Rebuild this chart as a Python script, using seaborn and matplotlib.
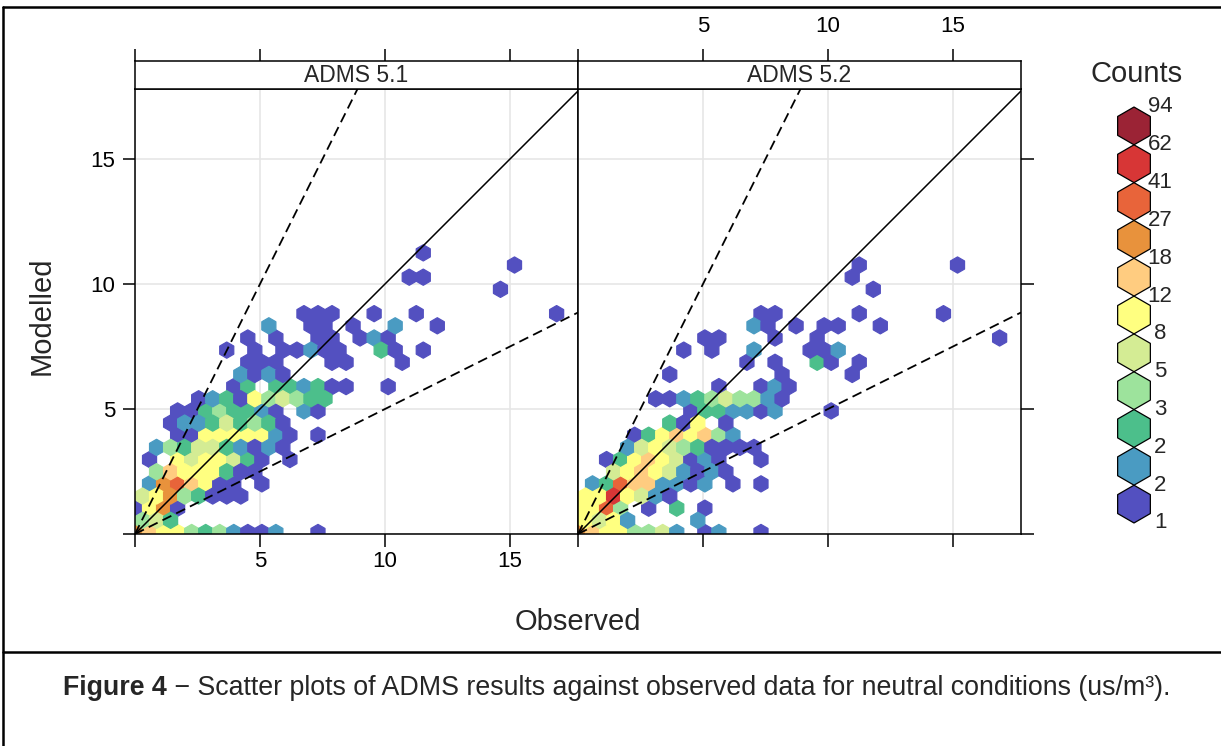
import numpy as np
import matplotlib
matplotlib.use('Agg')
import matplotlib.pyplot as plt
from matplotlib.colors import ListedColormap, BoundaryNorm
from matplotlib.lines import Line2D
import seaborn as sns

panel_names = ['ADMS 5.1', 'ADMS 5.2']

# colour key (log spaced count breaks)
count_breaks = [1, 1.51, 2.28, 3.45, 5.2, 7.87, 11.9, 17.97, 27.1, 41, 62, 94]
break_labels = ['1', '2', '2', '3', '5', '8', '12', '18', '27', '41', '62', '94']
count_colours = ['#5350c0', '#4a9bc2', '#4cbf8b', '#9de39c', '#d4ec94', '#ffff80',
                 '#ffcc80', '#e8923c', '#e8643a', '#d73636', '#9b2335']

# 1:1 line and factor of two lines
ratio_slopes = [1, 2, 0.5]
ratio_styles = ['-', '--', '--']

axis_ticks = [0, 5, 10, 15]
tick_labels = ['', '5', '10', '15']

# ADMS 5.1 - binned observed / modelled values and counts (one line per hex row)
obs_51 = [0.0, 0.6, 1.1, 1.7, 2.3, 2.8, 3.4, 3.9, 4.5, 5.1, 5.6, 7.3,
          0.3, 0.9, 1.4,
          0.0, 0.6, 1.1, 1.7,
          0.3, 0.9, 1.4, 2.0, 2.5, 3.1, 3.7, 4.2,
          0.6, 1.1, 1.7, 2.3, 2.8, 3.4, 3.9, 5.1,
          0.9, 1.4, 2.0, 2.5, 3.1, 3.7, 4.2, 4.8,
          0.6, 1.7, 2.3, 2.8, 3.4, 3.9, 4.5, 5.1, 6.2,
          0.9, 1.4, 2.0, 2.5, 3.1, 3.7, 4.2, 4.8, 5.4, 5.9,
          1.7, 2.3, 2.8, 3.4, 3.9, 4.5, 5.1, 5.6, 6.2, 7.3,
          1.4, 2.0, 2.5, 3.1, 3.7, 4.2, 4.8, 5.4, 5.9,
          1.7, 2.3, 2.8, 3.4, 3.9, 4.5, 5.1, 5.6, 6.8, 7.3,
          2.5, 3.1, 3.7, 4.2, 4.8, 5.4, 5.9, 6.5, 7.0, 7.6,
          3.9, 4.5, 5.6, 6.2, 6.8, 7.3, 7.9, 8.4, 10.1,
          4.2, 4.8, 5.4, 5.9,
          4.5, 5.1, 5.6, 7.9, 8.4, 10.7,
          3.7, 4.8, 5.9, 6.5, 7.0, 7.6, 8.2, 9.8, 10.4, 11.5,
          4.5, 5.6, 7.3, 7.9, 9.0, 9.6, 10.1,
          5.4, 7.0, 7.6, 8.7, 10.4, 12.1,
          6.8, 7.3, 7.9, 9.6, 11.3, 16.9,
          14.6,
          11.0, 11.5,
          15.2,
          11.5]
mod_51 = [0.1, 0.1, 0.1, 0.1, 0.1, 0.1, 0.1, 0.1, 0.1, 0.1, 0.1, 0.1,
          0.5, 0.5, 0.5,
          1.0, 1.0, 1.0, 1.0,
          1.5, 1.5, 1.5, 1.5, 1.5, 1.5, 1.5, 1.5,
          2.0, 2.0, 2.0, 2.0, 2.0, 2.0, 2.0, 2.0,
          2.5, 2.5, 2.5, 2.5, 2.5, 2.5, 2.5, 2.5,
          3.0, 3.0, 3.0, 3.0, 3.0, 3.0, 3.0, 3.0, 3.0,
          3.5, 3.5, 3.5, 3.5, 3.5, 3.5, 3.5, 3.5, 3.5, 3.5,
          4.0, 4.0, 4.0, 4.0, 4.0, 4.0, 4.0, 4.0, 4.0, 4.0,
          4.4, 4.4, 4.4, 4.4, 4.4, 4.4, 4.4, 4.4, 4.4,
          4.9, 4.9, 4.9, 4.9, 4.9, 4.9, 4.9, 4.9, 4.9, 4.9,
          5.4, 5.4, 5.4, 5.4, 5.4, 5.4, 5.4, 5.4, 5.4, 5.4,
          5.9, 5.9, 5.9, 5.9, 5.9, 5.9, 5.9, 5.9, 5.9,
          6.4, 6.4, 6.4, 6.4,
          6.9, 6.9, 6.9, 6.9, 6.9, 6.9,
          7.4, 7.4, 7.4, 7.4, 7.4, 7.4, 7.4, 7.4, 7.4, 7.4,
          7.8, 7.8, 7.8, 7.8, 7.8, 7.8, 7.8,
          8.3, 8.3, 8.3, 8.3, 8.3, 8.3,
          8.8, 8.8, 8.8, 8.8, 8.8, 8.8,
          9.8,
          10.3, 10.3,
          10.8,
          11.2]
n_51 = [22, 15, 10, 10, 4, 3, 4, 2, 1, 1, 2, 1,
        4, 6, 3,
        1, 10, 22, 1,
        6, 10, 22, 4, 3, 1, 1, 1,
        2, 22, 33, 15, 10, 1, 1, 1,
        4, 15, 10, 10, 10, 3, 1, 1,
        1, 10, 6, 10, 10, 6, 3, 1, 1,
        2, 4, 3, 6, 6, 3, 2, 1, 2, 1,
        1, 1, 10, 10, 10, 10, 10, 2, 1, 1,
        1, 2, 2, 3, 6, 3, 4, 3, 1,
        1, 1, 3, 4, 3, 3, 2, 1, 2, 1,
        1, 2, 3, 1, 10, 4, 6, 4, 3, 3,
        1, 3, 3, 3, 2, 3, 1, 1, 1,
        2, 1, 2, 1,
        1, 1, 1, 1, 1, 1,
        1, 1, 1, 1, 2, 1, 1, 3, 1, 1,
        1, 1, 1, 1, 1, 2, 1,
        2, 1, 1, 1, 2, 1,
        1, 1, 1, 1, 1, 1,
        1,
        1, 1,
        1,
        1]

# ADMS 5.2
obs_52 = [0.0, 0.6, 1.1, 1.7, 2.3, 2.8, 3.4, 3.9, 5.1, 5.6, 7.3,
          0.3, 0.9, 1.4, 2.0, 4.8,
          0.0, 0.6, 1.1, 1.7, 2.8, 3.9, 5.1,
          0.3, 0.9, 1.4, 2.0, 2.5, 3.1, 3.7,
          0.6, 1.1, 1.7, 2.3, 2.8, 3.4, 3.9, 4.5, 5.1, 6.2, 7.3,
          1.4, 2.0, 2.5, 3.1, 3.7, 4.2, 4.8, 5.4, 5.9,
          1.1, 1.7, 2.3, 2.8, 3.4, 3.9, 4.5, 5.1, 5.6, 7.3,
          2.0, 2.5, 3.1, 3.7, 4.2, 4.8, 5.4, 5.9, 6.5, 7.0,
          2.3, 2.8, 3.4, 3.9, 4.5, 5.1, 5.6, 6.2,
          3.7, 4.2, 4.8, 5.9,
          4.5, 5.1, 5.6, 6.2, 6.8, 7.3, 7.9, 10.1,
          3.1, 3.7, 4.2, 4.8, 5.4, 5.9, 6.5, 7.0, 7.6, 8.2,
          5.6, 7.3, 7.9, 8.4,
          3.7, 8.2, 11.0,
          6.8, 7.9, 9.6, 10.1, 11.3,
          4.2, 5.4, 7.0, 9.3, 9.8, 10.4,
          5.1, 5.6, 7.9, 9.6, 16.9,
          7.0, 7.6, 8.7, 9.8, 10.4, 12.1,
          7.3, 7.9, 11.3, 14.6,
          11.8,
          11.0,
          11.3, 15.2]
mod_52 = [0.1, 0.1, 0.1, 0.1, 0.1, 0.1, 0.1, 0.1, 0.1, 0.1, 0.1,
          0.5, 0.5, 0.5, 0.5, 0.5,
          1.0, 1.0, 1.0, 1.0, 1.0, 1.0, 1.0,
          1.5, 1.5, 1.5, 1.5, 1.5, 1.5, 1.5,
          2.0, 2.0, 2.0, 2.0, 2.0, 2.0, 2.0, 2.0, 2.0, 2.0, 2.0,
          2.5, 2.5, 2.5, 2.5, 2.5, 2.5, 2.5, 2.5, 2.5,
          3.0, 3.0, 3.0, 3.0, 3.0, 3.0, 3.0, 3.0, 3.0, 3.0,
          3.5, 3.5, 3.5, 3.5, 3.5, 3.5, 3.5, 3.5, 3.5, 3.5,
          4.0, 4.0, 4.0, 4.0, 4.0, 4.0, 4.0, 4.0,
          4.4, 4.4, 4.4, 4.4,
          4.9, 4.9, 4.9, 4.9, 4.9, 4.9, 4.9, 4.9,
          5.4, 5.4, 5.4, 5.4, 5.4, 5.4, 5.4, 5.4, 5.4, 5.4,
          5.9, 5.9, 5.9, 5.9,
          6.4, 6.4, 6.4,
          6.9, 6.9, 6.9, 6.9, 6.9,
          7.4, 7.4, 7.4, 7.4, 7.4, 7.4,
          7.8, 7.8, 7.8, 7.8, 7.8,
          8.3, 8.3, 8.3, 8.3, 8.3, 8.3,
          8.8, 8.8, 8.8, 8.8,
          9.8,
          10.3,
          10.8, 10.8]
n_52 = [22, 15, 10, 10, 4, 4, 6, 2, 1, 2, 1,
        10, 6, 10, 2, 2,
        10, 10, 33, 4, 1, 3, 1,
        10, 10, 50, 10, 6, 2, 1,
        2, 3, 33, 15, 15, 2, 2, 1, 2, 1, 1,
        6, 10, 15, 10, 6, 2, 1, 2, 1,
        1, 3, 10, 15, 10, 6, 1, 2, 1, 1,
        2, 6, 10, 6, 4, 3, 1, 1, 1, 1,
        1, 3, 10, 15, 10, 15, 4, 2,
        3, 1, 10, 1,
        1, 3, 3, 2, 2, 1, 2, 1,
        1, 1, 2, 3, 4, 6, 4, 4, 2, 1,
        1, 1, 2, 1,
        1, 1, 1,
        1, 1, 3, 1, 1,
        1, 1, 2, 1, 1, 2,
        1, 1, 1, 1, 1,
        2, 1, 1, 1, 1, 1,
        1, 1, 1, 1,
        1,
        1,
        1, 1]

sns.set_theme(style='white', rc={'axes.edgecolor': 'black', 'axes.linewidth': 1.1,
                                 'xtick.color': 'black', 'ytick.color': 'black'})
plt.rcParams['font.family'] = ['Liberation Sans', 'DejaVu Sans']

W, H = 1221, 746
fig = plt.figure(figsize=(W / 100, H / 100), dpi=100)


def box(x0, y0, x1, y1):
    # pixel box (top left origin) -> figure fraction
    return [x0 / W, 1 - y1 / H, (x1 - x0) / W, (y1 - y0) / H]


cmap = ListedColormap(count_colours)
norm = BoundaryNorm(count_breaks, cmap.N)
hex_extent = (0.02, 17.988, 0.06, 18.54)
xlim = (0, 17.72)
ylim = (0, 17.8)

datasets = [(obs_51, mod_51, n_51), (obs_52, mod_52, n_52)]
lefts = [135, 578]
tick_kw = dict(direction='out', length=9, width=1.1, labelsize=16, colors='black')

for k, (obs, mod, n) in enumerate(datasets):
    x0 = lefts[k]
    x1 = x0 + 443
    ax = fig.add_axes(box(x0, 89, x1, 534))
    ax.set_axisbelow(True)
    ax.grid(True, color='#e6e6e6', lw=1.2)
    ax.hexbin(obs, mod, C=n, reduce_C_function=np.sum, gridsize=(32, 19),
              extent=hex_extent, cmap=cmap, norm=norm, linewidths=0.9,
              edgecolors='face', zorder=2)
    for slope, ls in zip(ratio_slopes, ratio_styles):
        if ls == '--':
            ax.axline((0, 0), slope=slope, color='black', lw=1.3, ls=ls,
                      dashes=(5.5, 3), zorder=3)
        else:
            ax.axline((0, 0), slope=slope, color='black', lw=1.1, ls=ls, zorder=3)
    ax.set_xlim(xlim)
    ax.set_ylim(ylim)
    ax.set_xticks(axis_ticks)
    ax.set_yticks(axis_ticks)
    ax.set_xticklabels(tick_labels)
    ax.set_yticklabels(tick_labels)
    ax.tick_params(axis='x', bottom=True, top=False, labelbottom=(k == 0), pad=3, **tick_kw)
    if k == 0:
        ax.tick_params(axis='y', left=True, right=False, labelleft=True, pad=5, **tick_kw)
    else:
        ax.tick_params(axis='y', left=False, right=True, labelleft=False, labelright=False, **tick_kw)
    ax.set_xlabel('')
    ax.set_ylabel('')

    # strip with the panel name
    sx = fig.add_axes(box(x0, 61, x1, 89))
    sx.set_xlim(xlim)
    sx.set_yticks([])
    sx.set_xticks(axis_ticks)
    sx.set_xticklabels(tick_labels)
    sx.tick_params(axis='x', bottom=False, labelbottom=False, top=True, labeltop=(k == 1),
                   pad=8, **tick_kw)
    sx.text(0.5, 0.5, panel_names[k], transform=sx.transAxes, ha='center', va='center',
            fontsize=16.5)

fig.text(578 / W, 1 - 622 / H, 'Observed', ha='center', va='center', fontsize=21)
fig.text(42 / W, 1 - 316 / H, 'Modelled', ha='center', va='center', rotation=90, fontsize=21)

# colour key
key_levels = np.arange(len(count_colours))
ax_key = fig.add_axes(box(1100, 107, 1180, 523))
sns.scatterplot(x=np.zeros(len(key_levels)), y=key_levels, hue=key_levels,
                palette=count_colours, marker='h', s=740, edgecolor='black',
                linewidth=0.9, legend=False, ax=ax_key, clip_on=False)
ax_key.set_xlim(-34, 46)
ax_key.set_ylim(-0.5, len(key_levels) - 0.5)
for j, lab in enumerate(break_labels):
    ax_key.text(26, j - 0.5, lab, ha='center', va='center', fontsize=16)
ax_key.axis('off')
fig.text(1137 / W, 1 - 74 / H, 'Counts', ha='center', va='center', fontsize=21)

# frame and caption
for xs, ys in [([3, W], [7, 7]), ([3, 3], [7, H]), ([3, W], [652, 652])]:
    fig.add_artist(Line2D([v / W for v in xs], [1 - v / H for v in ys], color='black',
                          lw=1.8, transform=fig.transFigure))
cap = fig.text(63 / W, 1 - 701 / H, 'Figure 4', fontweight='bold', fontsize=19.3, va='bottom')
ax_key.annotate(' \u2212 Scatter plots of ADMS results against observed data for neutral '
                'conditions (us/m\u00b3).', xy=(1, 0), xycoords=cap, va='bottom', ha='left',
                fontsize=19.3, annotation_clip=False)

fig.savefig('out.png', dpi=100)
